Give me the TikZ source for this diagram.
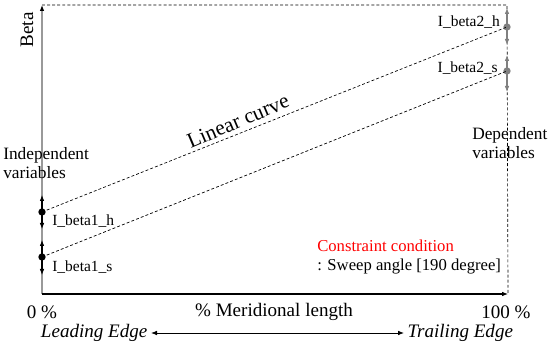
\documentclass[tikz,border=0pt]{standalone}
\usepackage{fontspec}
\setmainfont{Liberation Serif}
\usetikzlibrary{arrows.meta}

\begin{document}
\begin{tikzpicture}[
        x=0.75pt, y=-0.75pt,
        >={Latex[length=4.5pt,width=3.5pt]},
        dot/.style={circle, fill, inner sep=0pt, minimum size=5.5pt},
        lbl/.style={font=\fontsize{11.6}{13}\selectfont, inner sep=0pt},
        var/.style={font=\fontsize{13}{14.6}\selectfont, align=left, inner sep=0pt},
        axl/.style={font=\fontsize{14.3}{16}\selectfont, inner sep=0pt},
        edge/.style={font=\fontsize{14.3}{16}\itshape, inner sep=2.5pt},
        guide/.style={dash pattern=on 2.2pt off 1.6pt, line width=0.5pt}
    ]
        \useasboundingbox (0,0) rectangle (550,348);

        \coordinate (orig)   at (42,294);
        \coordinate (ytop)   at (42,5);
        \coordinate (xend)   at (508,294);
        \coordinate (corner) at (507,5);

        \draw[gray!80, line width=1pt, -{Latex[length=4.5pt,width=3.5pt,color=black]}] (orig) -- (ytop);
        \draw[->, line width=0.8pt] (orig) -- (xend);
        \draw[guide] (ytop) -- (corner) -- (xend);

        \node[dot]       (h1) at (42,212)  {};
        \node[dot]       (s1) at (42,257)  {};
        \node[dot, gray] (h2) at (507,27)  {};
        \node[dot, gray] (s2) at (507,71)  {};

        \draw[guide] (h1.center) -- (h2.center);
        \draw[guide] (s1.center) -- (s2.center);

        \coordinate (h1a) at (42,195);
        \coordinate (h1b) at (42,229);
        \coordinate (s1a) at (42,240);
        \coordinate (s1b) at (42,275);
        \coordinate (h2a) at (507,8);
        \coordinate (h2b) at (507,45);
        \coordinate (s2a) at (507,55);
        \coordinate (s2b) at (507,92);

        \draw[<->, line width=0.8pt] (h1a) -- (h1b);
        \draw[<->, line width=0.8pt] (s1a) -- (s1b);
        \draw[<->, gray, line width=0.8pt] (h2a) -- (h2b);
        \draw[<->, gray, line width=0.8pt] (s2a) -- (s2b);

        \node[lbl, anchor=west] (h1l) at (52,221) {I\_beta1\_h};
        \node[lbl, anchor=west] (s1l) at (52,267) {I\_beta1\_s};
        \node[lbl, anchor=east] (h2l) at (500,22) {I\_beta2\_h};
        \node[lbl, anchor=east] (s2l) at (498,68) {I\_beta2\_s};

        \node[var, anchor=west] (indep) at (3,163)   {Independent\\variables};
        \node[var, anchor=west] (dep)   at (472,143) {Dependent\\variables};

        \node[axl, rotate=90] (beta) at (27,30) {Beta};
        \node[font=\fontsize{16}{18}\selectfont, rotate=23, inner sep=0pt] (lin) at (238,121) {Linear curve};

        \node[font=\fontsize{12.5}{14}\selectfont, text=red, anchor=base west, inner sep=0pt] (cons)  at (317,252) {Constraint condition};
        \node[font=\fontsize{12.5}{14}\selectfont, anchor=base west, inner sep=0pt]           (sweep) at (317,271) {: Sweep angle [190 degree]};

        \node[axl] (p0)    at (42,312)  {0 \%};
        \node[axl] (merid) at (274,312) {\% Meridional length};
        \node[axl] (p100)  at (506,312) {100 \%};

        \node[edge, anchor=east] (le) at (151,333) {Leading Edge};
        \node[edge, anchor=west] (te) at (404,333) {Trailing Edge};
        \draw[<->, line width=0.6pt] (le) -- (te);
    \end{tikzpicture}
\end{document}
